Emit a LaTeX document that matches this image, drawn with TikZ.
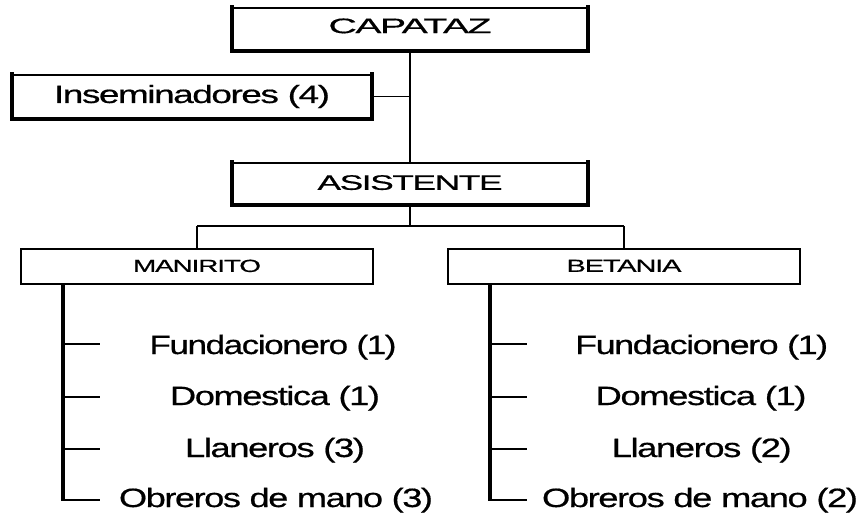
\documentclass[tikz,border=0pt]{standalone}
\usepackage{fontspec}
\setmainfont{Liberation Sans}[LetterSpace=-4,FakeBold=0.5]
\usepackage{graphicx}
\newcommand\tx[3]{\resizebox{#2pt}{\height}{\fontsize{#1pt}{#1pt}\selectfont #3}}
\tikzset{
  heavybox/.style={draw, rectangle, line width=2.4pt, inner sep=0pt},
  lightbox/.style={draw, rectangle, line width=2.1pt, inner sep=0pt,
                   minimum width=352pt, minimum height=35pt, text depth=1.4pt},
  heavyedge/.style={line width=4.2pt, line cap=rect, line join=miter},
  leaf/.style={inner sep=0pt, anchor=base},
  link/.style={line width=1.8pt},
  drop/.style={line width=2.6pt},
  stem/.style={line width=3.2pt},
  tick/.style={line width=2.2pt},
}
\begin{document}
\begin{tikzpicture}[x=1pt,y=-1pt]
\useasboundingbox (0,0) rectangle (864,515);

% boxes
\node[heavybox, minimum width=354pt, minimum height=42pt, text depth=6.4pt] (cap) at (410,29) {\tx{21}{163}{CAPATAZ}};
\node[heavybox, minimum width=358pt, minimum height=43pt] (ins) at (192,96.5) {\tx{25}{276}{Inseminadores (4)}};
\node[heavybox, minimum width=354pt, minimum height=41pt, text depth=2pt] (asi) at (410,183.5) {\tx{21}{185}{ASISTENTE}};
\node[lightbox] (man) at (197,266.5) {\tx{17.5}{128}{MANIRITO}};
\node[lightbox] (bet) at (624,266.5) {\tx{17.5}{115}{BETANIA}};

% heavy left/bottom/right edges
\foreach \b in {cap,ins,asi}{
  \draw[heavyedge] (\b.north west) -- (\b.south west) -- (\b.south east) -- (\b.north east);
}

% connectors at top
\draw[link] (cap.south) -- (cap.south |- ins.east);
\draw[link] (ins.east) -- (cap.south |- ins.east);
\draw[drop] (cap.south |- ins.east) -- (asi.north);

\coordinate (bus) at (410,226);
\draw[drop] (asi.south) -- (asi.south |- bus);
\draw[link] (man.north |- bus) -- (bet.north |- bus);
\draw[drop] (man.north |- bus) -- (man.north);
\draw[drop] (bet.north |- bus) -- (bet.north);

% leaf labels
\node[leaf] (mt1) at (273,354) {\tx{26.5}{247}{Fundacionero (1)}};
\node[leaf] (mt2) at (275,405) {\tx{26.5}{210}{Domestica (1)}};
\node[leaf] (mt3) at (275,457) {\tx{26.5}{180}{Llaneros (3)}};
\node[leaf] (mt4) at (276,507) {\tx{26.5}{314}{Obreros de mano (3)}};
\node[leaf] (bt1) at (701.7,354) {\tx{26.5}{253}{Fundacionero (1)}};
\node[leaf] (bt2) at (701,405) {\tx{26.5}{211}{Domestica (1)}};
\node[leaf] (bt3) at (701.7,457) {\tx{26.5}{180}{Llaneros (2)}};
\node[leaf] (bt4) at (700,507) {\tx{26.5}{316}{Obreros de mano (2)}};

% MANIRITO tree
\coordinate (mv) at (63,500);
\coordinate (m1) at (100,344);
\coordinate (m2) at (100,397);
\coordinate (m3) at (100,449);
\coordinate (m4) at (100,500);
\draw[stem] (mv |- man.south) -- ([yshift=-1.1pt]mv);
\foreach \t in {m1,m2,m3,m4}{ \draw[tick] (\t -| mv) -- (\t); }

% BETANIA tree
\coordinate (bv) at (490,500);
\coordinate (b1) at (527,344);
\coordinate (b2) at (527,397);
\coordinate (b3) at (527,449);
\coordinate (b4) at (527,500);
\draw[stem] (bv |- bet.south) -- ([yshift=-1.1pt]bv);
\foreach \t in {b1,b2,b3,b4}{ \draw[tick] (\t -| bv) -- (\t); }
\end{tikzpicture}
\end{document}
